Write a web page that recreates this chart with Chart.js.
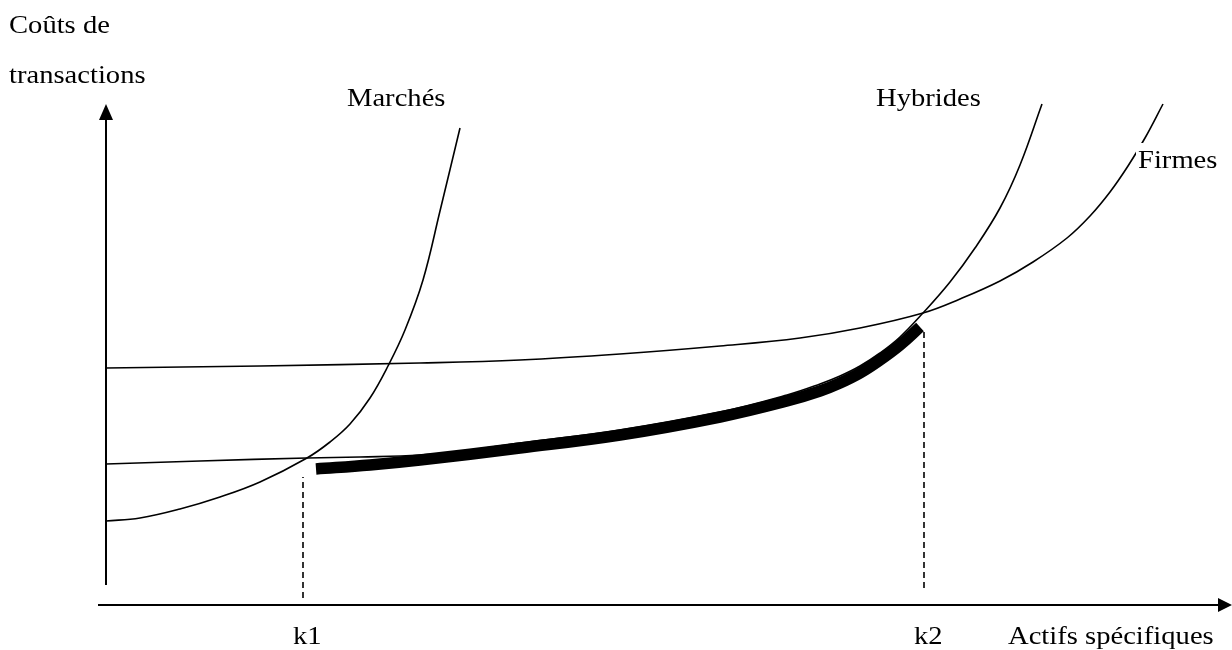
<!DOCTYPE html>
<html lang="fr">
<head>
<meta charset="utf-8">
<title>Coûts de transactions</title>
<script src="https://cdn.jsdelivr.net/npm/chart.js@4/dist/chart.umd.min.js"></script>
<style>
  html, body { margin: 0; padding: 0; background: #fff; }
  #wrap { width: 1232px; height: 650px; position: relative; }
</style>
</head>
<body>
<div id="wrap"><canvas id="chart"></canvas></div>
<script>
/* ---- Data: [actifs spécifiques, coûts de transactions] ---- */
const marches = [
  [0, 84], [34, 87], [74, 96], [114, 108], [154, 123], [201, 147],
  [224, 163], [244, 181], [264, 207], [282, 239], [299, 275], [317, 325],
  [334, 394], [354, 477],
];
const hybrides = [
  [0, 141], [94, 144], [201, 147], [254, 148], [314, 150], [364, 155],
  [414, 162], [514, 175], [614, 193], [681, 210], [714, 221], [734, 229],
  [754, 239], [774, 252], [794, 268], [817, 292], [844, 323], [869, 357],
  [894, 397], [914, 440], [936, 501],
];
const firmes = [
  [0, 237], [154, 239], [314, 242], [414, 245], [514, 251], [614, 259],
  [694, 267], [754, 277], [817, 292], [854, 306], [894, 324], [927, 343],
  [961, 367], [984, 389], [1004, 413], [1022, 439], [1039, 467], [1057, 501],
];
const envelope = [
  [210, 136], [264, 140], [314, 145], [414, 157], [514, 170], [614, 188],
  [681, 204], [714, 214], [734, 222], [754, 232], [774, 245], [794, 260],
  [814, 278],
];
const kValues = [197, 818];
const kTops   = [128, 277];
const kBottoms = [7, 17];
const kLabels = ['k1', 'k2'];

const curveLabels = [
  { text: 'Marchés',  x: 347,  y: 106 },
  { text: 'Hybrides', x: 876,  y: 106 },
  { text: 'Firmes',   x: 1138, y: 168, box: true },
];
const yTitle = ['Coûts de', 'transactions'];
const xTitle = 'Actifs spécifiques';

/* ---- Helpers ---- */
const toXY = (pts) => pts.map(([x, y]) => ({ x, y }));
const FONT = "26px 'Liberation Serif', 'Times New Roman', serif";
const STRETCH = 1.1;

function drawText(ctx, text, x, y) {
  ctx.save();
  ctx.translate(x, y);
  ctx.scale(STRETCH, 1);
  ctx.fillText(text, 0, 0);
  ctx.restore();
}

function thin(data) {
  return {
    data: toXY(data), borderColor: '#000', borderWidth: 1.6,
    pointRadius: 0, fill: false, tension: 0.4,
  };
}

const kDatasets = kValues.map((k, i) => ({
  data: [{ x: k, y: kBottoms[i] }, { x: k, y: kTops[i] }],
  borderColor: '#000', borderWidth: 1.6, borderDash: [6, 4],
  pointRadius: 0, fill: false,
}));

/* ---- Axes with arrow heads, and texts ---- */
const axesPlugin = {
  id: 'axesArrows',
  beforeDatasetsDraw(chart) {
    const { ctx } = chart;
    const xs = chart.scales.x, ys = chart.scales.y;
    const x0 = xs.getPixelForValue(0), y0 = ys.getPixelForValue(0);
    ctx.save();
    ctx.strokeStyle = '#000';
    ctx.fillStyle = '#000';
    ctx.lineWidth = 2;
    // vertical axis
    ctx.beginPath();
    ctx.moveTo(x0, y0 - 20);
    ctx.lineTo(x0, 118);
    ctx.stroke();
    ctx.beginPath();
    ctx.moveTo(x0, 104);
    ctx.lineTo(x0 - 7, 120);
    ctx.lineTo(x0 + 7, 120);
    ctx.closePath();
    ctx.fill();
    // horizontal axis
    const xEnd = xs.getPixelForValue(xs.max);
    ctx.beginPath();
    ctx.moveTo(x0 - 8, y0);
    ctx.lineTo(xEnd - 12, y0);
    ctx.stroke();
    ctx.beginPath();
    ctx.moveTo(xEnd, y0);
    ctx.lineTo(xEnd - 14, y0 - 7);
    ctx.lineTo(xEnd - 14, y0 + 7);
    ctx.closePath();
    ctx.fill();
    ctx.restore();
  },
  afterDatasetsDraw(chart) {
    const { ctx } = chart;
    const xs = chart.scales.x;
    ctx.save();
    ctx.font = FONT;
    ctx.textBaseline = 'alphabetic';
    for (const l of curveLabels) {
      if (l.box) {
        ctx.fillStyle = '#fff';
        ctx.fillRect(l.x - 2, l.y - 25, 84, 32);
      }
      ctx.fillStyle = '#000';
      drawText(ctx, l.text, l.x, l.y);
    }
    drawText(ctx, yTitle[0], 9, 33);
    drawText(ctx, yTitle[1], 9, 83);
    kValues.forEach((k, i) => {
      const px = xs.getPixelForValue(k);
      drawText(ctx, kLabels[i], px - 10, 644);
    });
    drawText(ctx, xTitle, 1008, 644);
    ctx.restore();
  },
};

/* ---- Chart ---- */
new Chart(document.getElementById('chart'), {
  type: 'line',
  data: {
    datasets: [
      thin(marches),
      thin(hybrides),
      thin(firmes),
      {
        data: toXY(envelope), borderColor: '#000', borderWidth: 11.5,
        borderCapStyle: 'butt', pointRadius: 0, fill: false, tension: 0.4,
      },
      ...kDatasets,
    ],
  },
  options: {
    responsive: true,
    maintainAspectRatio: false,
    animation: false,
    layout: { padding: { left: 106, right: 0, top: 0, bottom: 45 } },
    plugins: { legend: { display: false }, tooltip: { enabled: false } },
    scales: {
      x: { type: 'linear', min: 0, max: 1126, display: false },
      y: { type: 'linear', min: 0, max: 605, display: false },
    },
    elements: { line: { clip: false } },
  },
  plugins: [axesPlugin],
});
</script>
</body>
</html>
